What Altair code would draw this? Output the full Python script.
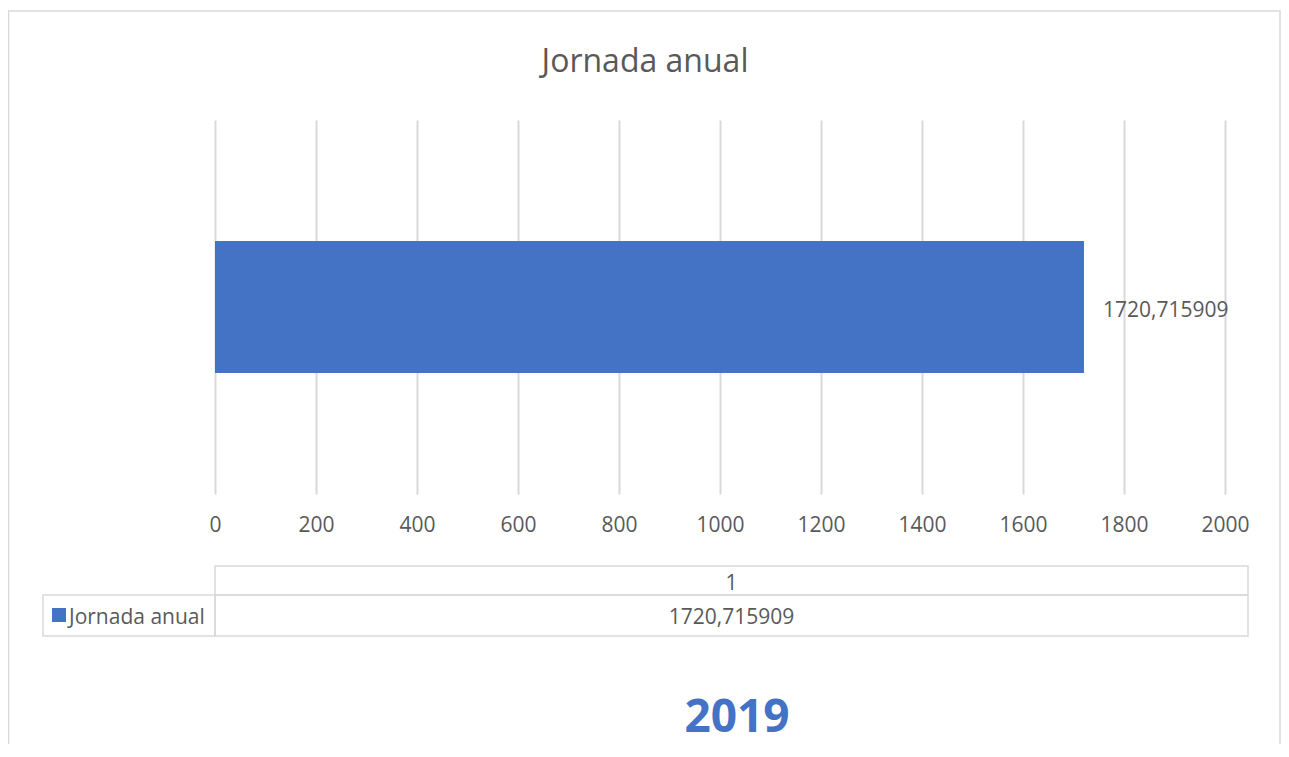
import altair as alt
import pandas as pd

# ---- data ----
categories = ["1"]
series_name = ["Jornada anual"]
values = [1720.715909]
x_ticks = [0, 200, 400, 600, 800, 1000, 1200, 1400, 1600, 1800, 2000]
x_domain = [0, 2000]
chart_title = "Jornada anual"
year_label = "2019"

labels = [f"{v:.6f}".replace(".", ",") for v in values]
df = pd.DataFrame({"cat": categories, "value": values, "series": series_name, "label": labels})
one = pd.DataFrame({"k": [0]})

BLUE = "#4472C4"
TXT = "#595959"
LINE = "#d9d9d9"
FONT = "Open Sans"

base = alt.Chart(df)

x_enc = alt.X(
    "value:Q",
    scale=alt.Scale(domain=x_domain, nice=False, zero=True),
    axis=alt.Axis(
        values=x_ticks, format="d", title=None, grid=True, gridColor=LINE, gridWidth=2,
        domain=False, ticks=False, tickSize=0, labelFont=FONT, labelFontSize=21,
        labelColor=TXT, labelBaseline="alphabetic", labelPadding=37,
        labelFlush=False, labelOverlap=False,
    ),
)
y_enc = alt.Y("cat:N", scale=alt.Scale(paddingInner=0.4783, paddingOuter=0.4783), axis=None)

bars = base.mark_bar(color=BLUE).encode(x=x_enc, y=y_enc)

bar_labels = base.mark_text(
    align="left", baseline="alphabetic", dx=19, dy=10, font=FONT, fontSize=21, color=TXT
).encode(x="value:Q", y=y_enc, text="label:N")

# chart frame
frame = alt.Chart(one).mark_rect(filled=False, color=LINE, strokeWidth=1.5).encode(
    x=alt.value(-206.5), x2=alt.value(1065), y=alt.value(-109), y2=alt.value(700)
)

# title
title = alt.Chart(one).mark_text(
    align="center", baseline="alphabetic", font=FONT, fontSize=32, color=TXT
).encode(x=alt.value(430), y=alt.value(-48), text=alt.value(chart_title))

# data table
row1 = alt.Chart(one).mark_rect(filled=False, color=LINE, strokeWidth=1.5).encode(
    x=alt.value(0), x2=alt.value(1033), y=alt.value(446), y2=alt.value(475)
)
cell_leg = alt.Chart(one).mark_rect(filled=False, color=LINE, strokeWidth=1.5).encode(
    x=alt.value(-172), x2=alt.value(0), y=alt.value(475), y2=alt.value(516)
)
cell_val = alt.Chart(one).mark_rect(filled=False, color=LINE, strokeWidth=1.5).encode(
    x=alt.value(0), x2=alt.value(1033), y=alt.value(475), y2=alt.value(516)
)
head_txt = base.mark_text(
    align="center", baseline="alphabetic", font=FONT, fontSize=21, color=TXT
).encode(x=alt.value(516.5), y=alt.value(470), text="cat:N")
val_txt = base.mark_text(
    align="center", baseline="alphabetic", font=FONT, fontSize=21, color=TXT
).encode(x=alt.value(516.5), y=alt.value(504), text="label:N")
key = base.mark_rect(color=BLUE).encode(
    x=alt.value(-163), x2=alt.value(-149), y=alt.value(488), y2=alt.value(502)
)
key_txt = base.mark_text(
    align="left", baseline="alphabetic", font=FONT, fontSize=21, color=TXT
).encode(x=alt.value(-146), y=alt.value(504), text="series:N")

year = alt.Chart(one).mark_text(
    align="center", baseline="alphabetic", font=FONT, fontSize=46, fontWeight="bold", color=BLUE
).encode(x=alt.value(522), y=alt.value(612), text=alt.value(year_label))

chart = alt.layer(
    frame, bars, bar_labels, title, row1, cell_leg, cell_val, head_txt, val_txt, key, key_txt, year
).properties(
    width=1010,
    height=374,
    autosize=alt.AutoSizeParams(type="none"),
    padding={"left": 207, "top": 112, "right": 56, "bottom": 250},
    background="white",
).configure_view(strokeWidth=0)

chart.save("out.html", embed_options={"renderer": "svg", "actions": False})
